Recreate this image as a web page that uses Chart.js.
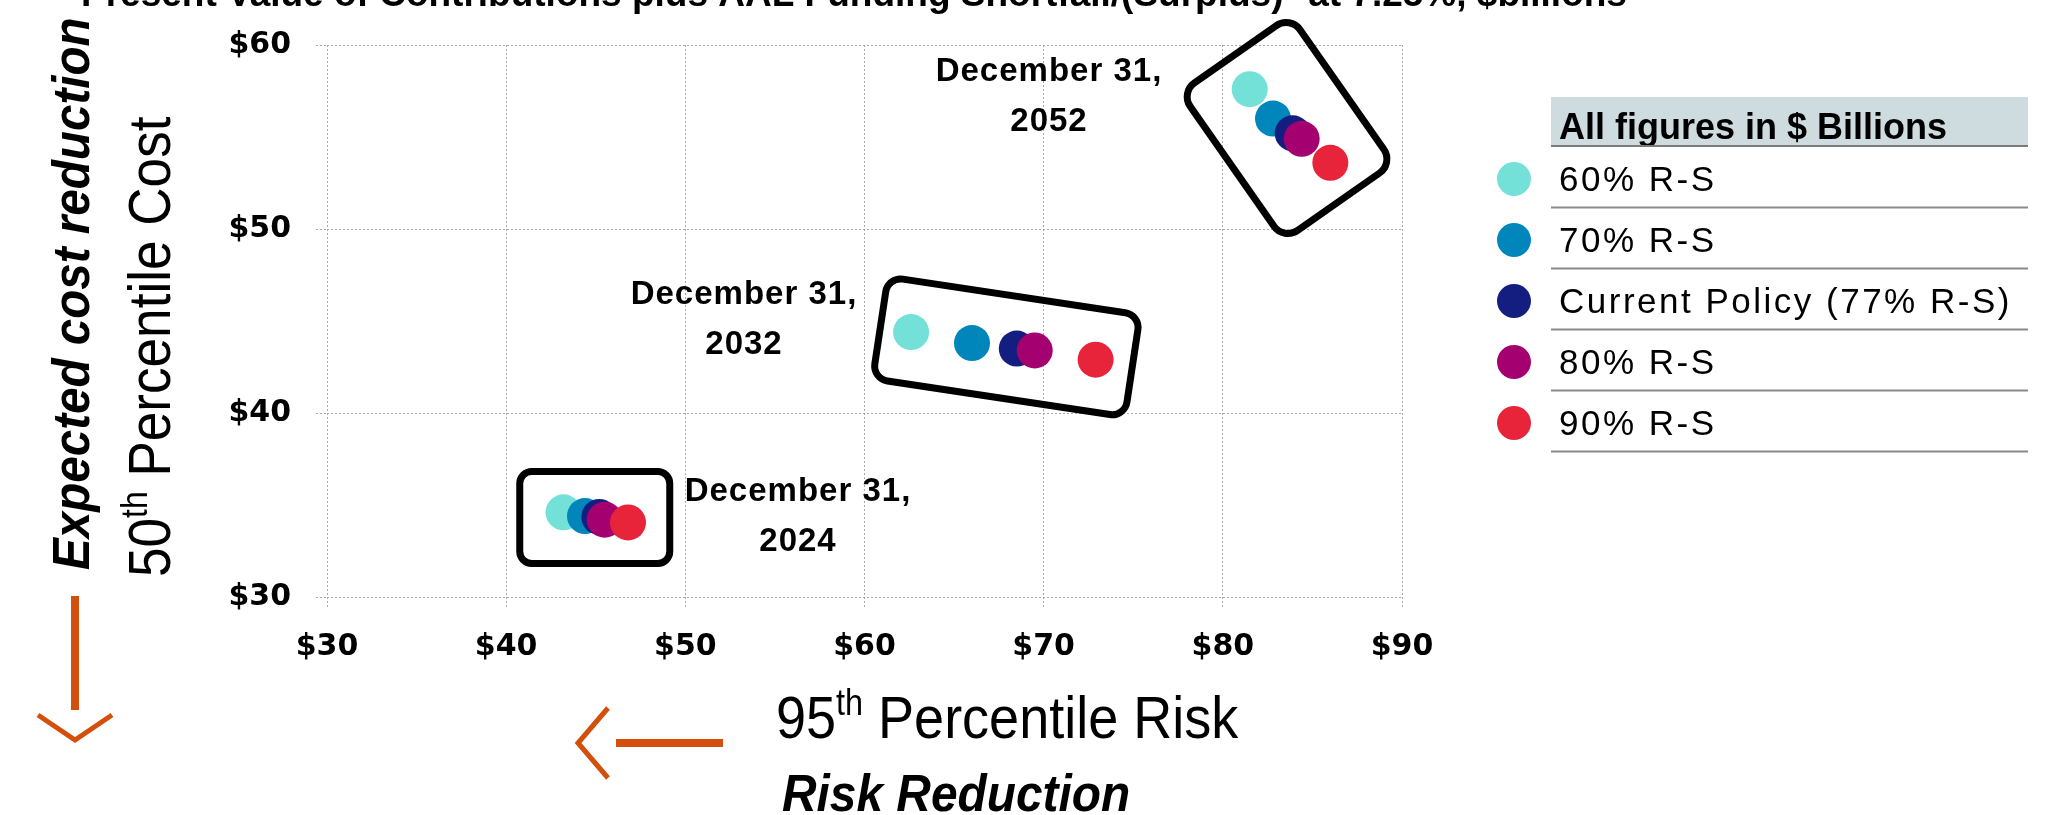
<!DOCTYPE html>
<html>
<head>
<meta charset="utf-8">
<script src="https://cdn.jsdelivr.net/npm/chart.js@4.4.1/dist/chart.umd.min.js"></script>
<style>
  html, body { margin: 0; padding: 0; background: #ffffff; }
  #wrap { position: relative; width: 2055px; height: 815px; }
  canvas { display: block; }
</style>
</head>
<body>
<div id="wrap"><canvas id="chart" width="2055" height="815"></canvas></div>
<script>
// Funding policies compared, one series each
const seriesNames  = ['60% R-S', '70% R-S', 'Current Policy (77% R-S)', '80% R-S', '90% R-S'];
const seriesColors = ['#74E1D9', '#0086BA', '#141E80', '#A4006F', '#E8243B'];

// Valuation snapshots (one point per series for each)
const snapshotYears = ['2024', '2032', '2052'];

// 95th percentile risk, $ billions, per snapshot
const risk60  = [43.2, 62.6, 81.5];
const risk70  = [44.4, 66.0, 82.8];
const riskCur = [45.2, 68.5, 83.9];
const risk80  = [45.5, 69.5, 84.4];
const risk90  = [46.8, 72.9, 86.0];

// 50th percentile cost, $ billions, per snapshot
const cost60  = [34.6, 44.4, 57.6];
const cost70  = [34.4, 43.8, 56.0];
const costCur = [34.35, 43.5, 55.2];
const cost80  = [34.2, 43.4, 54.9];
const cost90  = [34.05, 42.9, 53.6];

// Axis tick labels
const xTickValues = [30, 40, 50, 60, 70, 80, 90];
const xTickLabels = ['$30', '$40', '$50', '$60', '$70', '$80', '$90'];
const yTickValues = [30, 40, 50, 60];
const yTickLabels = ['$30', '$40', '$50', '$60'];

const riskSeries = [risk60, risk70, riskCur, risk80, risk90];
const costSeries = [cost60, cost70, costCur, cost80, cost90];

const datasets = seriesNames.map((name, i) => ({
  label: name,
  data: riskSeries[i].map((r, k) => ({ x: r, y: costSeries[i][k] })),
  backgroundColor: seriesColors[i],
  borderWidth: 0,
  pointRadius: 18,
  pointHoverRadius: 18,
  order: seriesNames.length - i   // later policies drawn on top
}));

// Rounded frames around each snapshot group and their date captions
const frameStyles = [
  { w: 150, h: 92,  angle: 0,   r: 12, dx: -1, dy: 0 },
  { w: 255, h: 103, angle: 8.6, r: 15, dx: 3,  dy: 1 },
  { w: 180, h: 134, angle: 55,  r: 17, dx: -3, dy: 2 }
];
const captionPos = [
  { x: 798,  y: 501 },
  { x: 744,  y: 304 },
  { x: 1049, y: 81 }
];

const framePlugin = {
  id: 'snapshotFrames',
  afterDatasetsDraw(chart) {
    const ctx = chart.ctx, xs = chart.scales.x, ys = chart.scales.y;
    const last = riskSeries.length - 1;
    snapshotYears.forEach((year, k) => {
      const x0 = xs.getPixelForValue(riskSeries[0][k]), y0 = ys.getPixelForValue(costSeries[0][k]);
      const x1 = xs.getPixelForValue(riskSeries[last][k]), y1 = ys.getPixelForValue(costSeries[last][k]);
      const f = frameStyles[k];
      ctx.save();
      ctx.translate((x0 + x1) / 2 + f.dx, (y0 + y1) / 2 + f.dy);
      ctx.rotate(f.angle * Math.PI / 180);
      ctx.beginPath();
      ctx.roundRect(-f.w / 2, -f.h / 2, f.w, f.h, f.r);
      ctx.lineWidth = 7;
      ctx.strokeStyle = '#000000';
      ctx.stroke();
      ctx.restore();

      const p = captionPos[k];
      ctx.save();
      ctx.fillStyle = '#000000';
      ctx.font = 'bold 33px "Liberation Sans", Arial, sans-serif';
      ctx.textAlign = 'center';
      ctx.textBaseline = 'alphabetic';
      ctx.letterSpacing = '1px';
      ctx.fillText('December 31,', p.x, p.y);
      ctx.fillText(year, p.x, p.y + 50);
      ctx.restore();
    });
  }
};

// Axis titles, direction arrows, heading and the legend table
function drawSupText(ctx, base, sup, rest, x, y, size, sx) {
  ctx.save();
  ctx.translate(x, y);
  ctx.scale(sx, 1);
  ctx.font = size + 'px "Liberation Sans", Arial, sans-serif';
  let cx = 0;
  ctx.fillText(base, cx, 0); cx += ctx.measureText(base).width;
  ctx.font = Math.round(size * 0.6) + 'px "Liberation Sans", Arial, sans-serif';
  ctx.fillText(sup, cx, -size * 0.38); cx += ctx.measureText(sup).width;
  ctx.font = size + 'px "Liberation Sans", Arial, sans-serif';
  ctx.fillText(rest, cx, 0);
  ctx.restore();
}

function drawArrowLeft(ctx, tipX, y, tailX) {
  ctx.save();
  ctx.strokeStyle = '#D2500C';
  ctx.lineCap = 'butt';
  ctx.lineWidth = 8;
  ctx.beginPath(); ctx.moveTo(tailX, y); ctx.lineTo(tipX + 38, y); ctx.stroke();
  ctx.lineWidth = 5;
  ctx.beginPath(); ctx.moveTo(tipX + 30, y - 35); ctx.lineTo(tipX, y); ctx.lineTo(tipX + 30, y + 35); ctx.stroke();
  ctx.restore();
}

function drawArrowDown(ctx, x, tipY, tailY) {
  ctx.save();
  ctx.strokeStyle = '#D2500C';
  ctx.lineCap = 'butt';
  ctx.lineWidth = 8;
  ctx.beginPath(); ctx.moveTo(x, tailY); ctx.lineTo(x, tipY - 30); ctx.stroke();
  ctx.lineWidth = 5;
  ctx.beginPath(); ctx.moveTo(x - 37, tipY - 25); ctx.lineTo(x, tipY); ctx.lineTo(x + 37, tipY - 25); ctx.stroke();
  ctx.restore();
}

const decorPlugin = {
  id: 'decor',
  afterDraw(chart) {
    const ctx = chart.ctx;
    ctx.save();
    ctx.fillStyle = '#000000';
    ctx.textAlign = 'left';
    ctx.textBaseline = 'alphabetic';

    // y-axis titles
    ctx.save();
    ctx.translate(170, 577);
    ctx.rotate(-Math.PI / 2);
    drawSupText(ctx, '50', 'th', ' Percentile Cost', 0, 0, 60, 0.885);
    ctx.restore();
    ctx.save();
    ctx.translate(89, 570);
    ctx.rotate(-Math.PI / 2);
    ctx.scale(0.915, 1);
    ctx.font = 'italic bold 52px "Liberation Sans", Arial, sans-serif';
    ctx.fillText('Expected cost reduction', 0, 0);
    ctx.restore();
    drawArrowDown(ctx, 75, 740, 596);

    // heading (runs off the top edge)
    ctx.font = 'bold 37px "Liberation Sans", Arial, sans-serif';
    ctx.fillText('Present Value of Contributions plus AAL Funding Shortfall/(Surplus)* at 7.25%, $billions', 81, 6);

    // x-axis titles
    drawSupText(ctx, '95', 'th', ' Percentile Risk', 776, 738, 60, 0.9);
    ctx.save();
    ctx.translate(782, 811);
    ctx.scale(0.92, 1);
    ctx.font = 'italic bold 52px "Liberation Sans", Arial, sans-serif';
    ctx.fillText('Risk Reduction', 0, 0);
    ctx.restore();
    drawArrowLeft(ctx, 578, 743, 723);

    // legend table
    const lx = 1551, lw = 477;
    ctx.fillStyle = '#CEDBDF';
    ctx.fillRect(lx, 97, lw, 49);
    ctx.fillStyle = '#000000';
    ctx.font = 'bold 36px "Liberation Sans", Arial, sans-serif';
    ctx.fillText('All figures in $ Billions', 1559, 139);
    ctx.strokeStyle = '#7a7a7a';
    ctx.lineWidth = 2;
    ctx.beginPath(); ctx.moveTo(lx, 146); ctx.lineTo(lx + lw, 146); ctx.stroke();
    ctx.font = '35px "Liberation Sans", Arial, sans-serif';
    ctx.letterSpacing = '2.5px';
    seriesNames.forEach((name, i) => {
      const base = 191 + i * 61;
      ctx.fillStyle = seriesColors[i];
      ctx.beginPath(); ctx.arc(1514, base - 12, 17, 0, Math.PI * 2); ctx.fill();
      ctx.fillStyle = '#000000';
      ctx.fillText(name, 1559, base);
      ctx.strokeStyle = '#8a8a8a';
      ctx.beginPath(); ctx.moveTo(lx, base + 16.5); ctx.lineTo(lx + lw, base + 16.5); ctx.stroke();
    });
    ctx.restore();
  }
};

const tickFont = { family: '"DejaVu Sans", sans-serif', size: 30, weight: 'bold' };

new Chart(document.getElementById('chart'), {
  type: 'scatter',
  data: { datasets },
  options: {
    responsive: false,
    animation: false,
    events: [],
    layout: { padding: { left: 0, top: 45, right: 653, bottom: 0 } },
    plugins: { legend: { display: false }, tooltip: { enabled: false }, title: { display: false } },
    scales: {
      x: {
        type: 'linear', min: 30, max: 90,
        afterBuildTicks(scale) { scale.ticks = xTickValues.map(v => ({ value: v })); },
        afterFit(scale) { scale.height = 218; },
        ticks: {
          callback: (v) => xTickLabels[xTickValues.indexOf(v)],
          font: tickFont, color: '#000000', padding: 21, maxRotation: 0, autoSkip: false
        },
        grid: { color: '#a8a8a8', lineWidth: 1, tickLength: 11, tickBorderDash: [2, 2] },
        border: { display: false, dash: [2, 2] }
      },
      y: {
        type: 'linear', min: 30, max: 60,
        afterBuildTicks(scale) { scale.ticks = yTickValues.map(v => ({ value: v })); },
        afterFit(scale) { scale.width = 327; },
        ticks: {
          callback: (v) => yTickLabels[yTickValues.indexOf(v)],
          font: tickFont, color: '#000000', padding: 25, autoSkip: false
        },
        grid: { color: '#a8a8a8', lineWidth: 1, tickLength: 11, tickBorderDash: [2, 2] },
        border: { display: false, dash: [2, 2] }
      }
    }
  },
  plugins: [framePlugin, decorPlugin]
});
</script>
</body>
</html>
